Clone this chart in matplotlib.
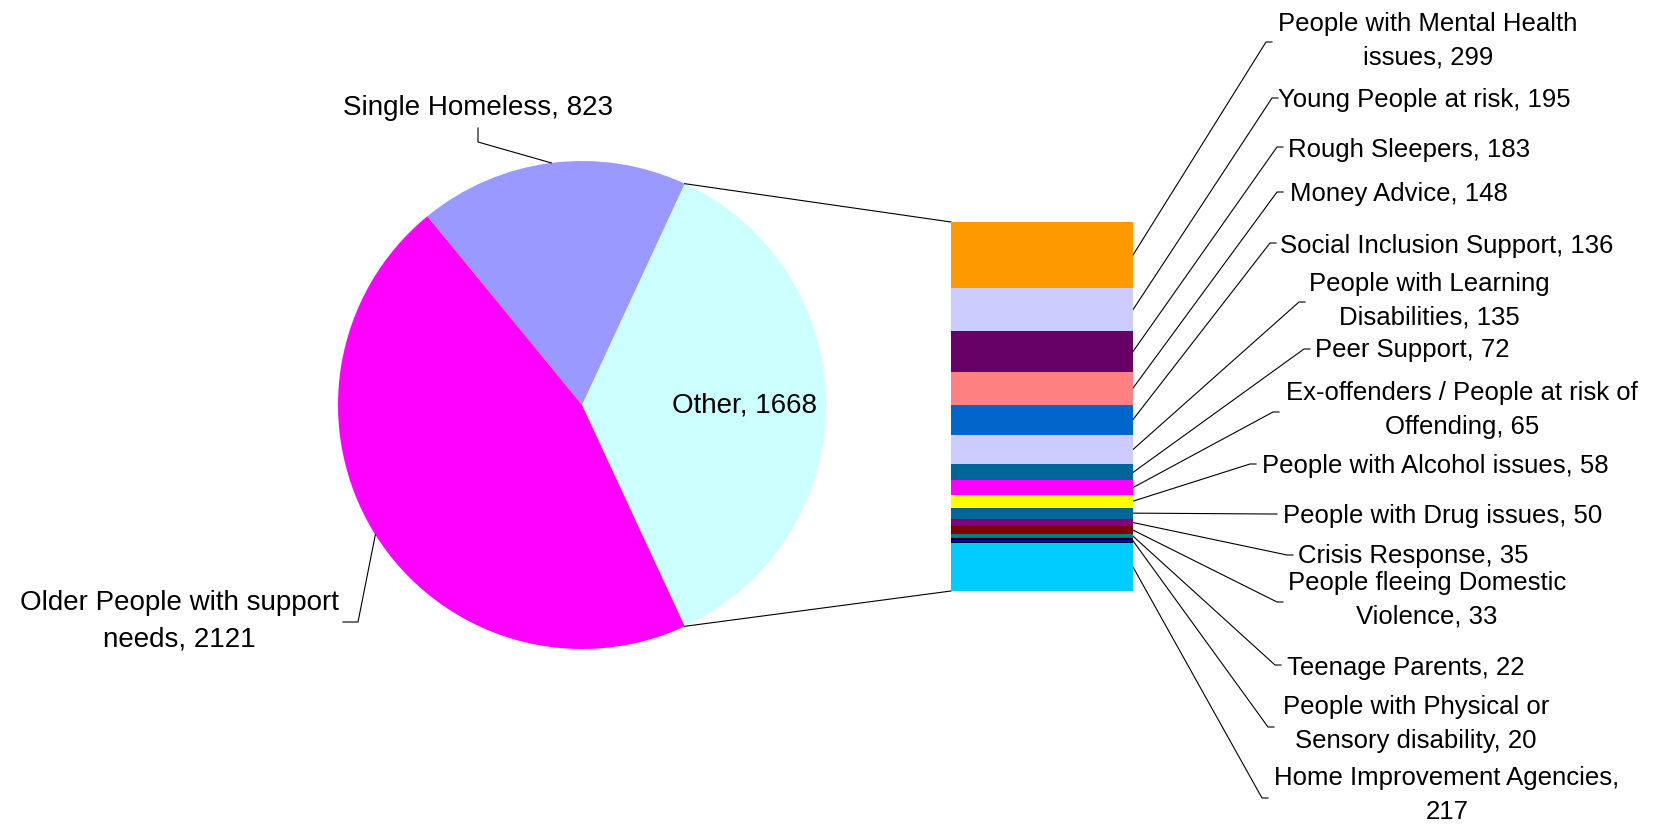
import matplotlib
matplotlib.use("Agg")
import matplotlib.pyplot as plt
import numpy as np

plt.rcParams["font.family"] = ["Liberation Sans", "DejaVu Sans"]
plt.rcParams["font.size"] = 18.5

# main pie
pie_labels = ["Other", "Single Homeless", "Older People with support\nneeds"]
pie_values = [1668, 823, 2121]
pie_colors = ["#CCFFFF", "#9999FF", "#FF00FF"]

# breakdown of "Other", top to bottom
bar_labels = [
    "People with Mental Health\nissues",
    "Young People at risk",
    "Rough Sleepers",
    "Money Advice",
    "Social Inclusion Support",
    "People with Learning\nDisabilities",
    "Peer Support",
    "Ex-offenders / People at risk of\nOffending",
    "People with Alcohol issues",
    "People with Drug issues",
    "Crisis Response",
    "People fleeing Domestic\nViolence",
    "Teenage Parents",
    "People with Physical or\nSensory disability",
    "Home Improvement Agencies",
]
bar_values = [299, 195, 183, 148, 136, 135, 72, 65, 58, 50, 35, 33, 22, 20, 217]
bar_colors = ["#FF9900", "#CCCCFF", "#660066", "#FF8080", "#0066CC", "#CCCCFF",
              "#006699", "#FF00FF", "#FFFF00", "#006699", "#800080", "#800000",
              "#008080", "#0000FF", "#00CCFF"]

# label layout in pixels: (leader tip x, tip y, text x, text y, centred?)
bar_label_pos = [
    (1266, 42, 1428, 41, True),
    (1272, 98, 1278, 98, False),
    (1277, 147, 1288, 147, False),
    (1277, 192, 1290, 192, False),
    (1270, 243, 1280, 243, False),
    (1299, 302, 1429, 301, True),
    (1304, 349, 1315, 348, False),
    (1273, 412, 1462, 410, True),
    (1250, 464, 1262, 463, False),
    (1271, 514, 1283, 513, False),
    (1287, 555, 1298, 553, False),
    (1277, 602, 1427, 600, True),
    (1275, 665, 1287, 665, False),
    (1268, 727, 1416, 724, True),
    (1262, 798, 1447, 795, True),
]

W, H = 1657, 825
fig = plt.figure(figsize=(W / 100, H / 100), dpi=100)
ax = fig.add_axes([0, 0, 1, 1])

cx, cy, r = 582, 405, 244
other_frac = pie_values[0] / sum(pie_values)
# y axis runs downwards, so go clockwise in data space
wedges, _ = ax.pie(pie_values, colors=pie_colors, center=(cx, cy), radius=r,
                   startangle=180 * other_frac, counterclock=False,
                   wedgeprops=dict(linewidth=0))
ax.set_xlim(0, W)
ax.set_ylim(H, 0)
ax.set_aspect("auto")
ax.axis("off")


def edge_point(angle):
    a = np.deg2rad(angle)
    return cx + r * np.cos(a), cy + r * np.sin(a)


line_kw = dict(color="black", lw=0.8)

# stacked bar for the "Other" slice
bx, by, bw, bh = 951, 222, 182, 369
bax = fig.add_axes([bx / W, 1 - (by + bh) / H, bw / W, bh / H])
total = sum(bar_values)
bottoms = np.concatenate([[0], np.cumsum(bar_values)[:-1]])
edges = ["none"] * len(bar_values)
edges[13] = "black"
bax.bar(0.5, bar_values, width=1, bottom=bottoms, color=bar_colors,
        edgecolor=edges, linewidth=1.6)
bax.set_xlim(0, 1)
bax.set_ylim(total, 0)
bax.axis("off")


def to_main(x, y):
    disp = bax.transData.transform((x, y))
    return ax.transData.inverted().transform(disp)


# lines joining the "Other" slice to the bar
w_other = wedges[0]
ends = sorted([edge_point(w_other.theta1), edge_point(w_other.theta2)], key=lambda p: p[1])
for p0, by_val in zip(ends, [0, total]):
    p1 = to_main(0, by_val)
    ax.plot([p0[0], p1[0]], [p0[1], p1[1]], **line_kw)

# bar labels with leader lines
for lab, val, bot, (ex, ey, tx, ty, centred) in zip(bar_labels, bar_values, bottoms, bar_label_pos):
    sx, sy = to_main(1, bot + val / 2)
    ax.plot([sx, ex, ex + 6], [sy, ey, ey], **line_kw)
    sep = ",\n" if lab == "Home Improvement Agencies" else ", "
    text = f"{lab}{sep}{val}"
    if "\n" in text:
        ax.text(tx, ty, text, ha="center" if centred else "left", va="center",
                multialignment="center", linespacing=1.5)
    else:
        ax.text(tx, ty, text, ha="left", va="center_baseline")

# pie labels
pie_fs = 20
mid = lambda w: (w.theta1 + w.theta2) / 2
ax.text(745, 402, f"{pie_labels[0]}, {pie_values[0]}", ha="center",
        va="center_baseline", fontsize=pie_fs)

p = edge_point(mid(wedges[1]))
ax.plot([p[0], 478, 478], [p[1], 142, 128], **line_kw)
ax.text(478, 105, f"{pie_labels[1]}, {pie_values[1]}", ha="center",
        va="center_baseline", fontsize=pie_fs)

p = edge_point(mid(wedges[2]))
ax.plot([p[0], 358, 343], [p[1], 622, 622], **line_kw)
ax.text(179, 621, f"{pie_labels[2]}, {pie_values[2]}", ha="center", va="center",
        multialignment="center", linespacing=1.5, fontsize=pie_fs)

fig.savefig("out.png", dpi=100)
